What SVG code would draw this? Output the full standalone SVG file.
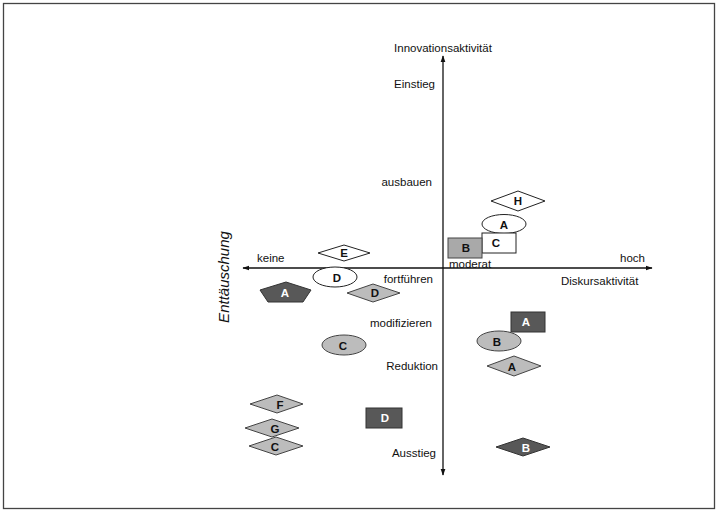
<svg xmlns="http://www.w3.org/2000/svg" width="718" height="512" viewBox="0 0 718 512">
  <style>
    .lbl { font-family: "Liberation Sans", Arial, sans-serif; font-size: 11.5px; fill: #111; }
    .end { text-anchor: end; }
    .key { font-family: "Liberation Sans", Arial, sans-serif; font-size: 11.5px; font-weight: bold; text-anchor: middle; dominant-baseline: central; fill: #111; }
    .key.inv { fill: #fff; }
    .w { fill: #fff; stroke: #222; stroke-width: 1; }
    .g { fill: #bcbcbc; stroke: #444; stroke-width: 1; }
    .gr { fill: #a9a9a9; stroke: #444; stroke-width: 1; }
    .d { fill: #585858; stroke: #333; stroke-width: 1; }
    .axis { stroke: #111; stroke-width: 1.3; fill: none; }
  </style>
  <defs>
    <marker id="arr" viewBox="0 0 10 10" refX="9" refY="5" markerWidth="7" markerHeight="7" orient="auto-start-reverse" markerUnits="userSpaceOnUse">
      <path d="M0,1.5 L10,5 L0,8.5 Z" fill="#111"/>
    </marker>
  </defs>

  <rect x="0" y="0" width="718" height="512" fill="#fff"/>
  <rect x="3.5" y="3.5" width="711" height="505" fill="none" stroke="#444" stroke-width="1.3"/>

  <!-- axes, arrow at both ends -->
  <g id="connectors">
    <line class="axis" x1="443" y1="56" x2="443" y2="475" marker-start="url(#arr)" marker-end="url(#arr)"/>
    <line class="axis" x1="243" y1="268" x2="652" y2="268" marker-start="url(#arr)" marker-end="url(#arr)"/>
  </g>

  <!-- axis labels -->
  <g id="labels">
    <text class="lbl" x="443" y="52" text-anchor="middle">Innovationsaktivität</text>
    <text class="lbl end" x="435" y="88">Einstieg</text>
    <text class="lbl end" x="432" y="186">ausbauen</text>
    <text class="lbl end" x="433" y="283">fortführen</text>
    <text class="lbl end" x="432" y="327">modifizieren</text>
    <text class="lbl end" x="438" y="370">Reduktion</text>
    <text class="lbl end" x="436" y="457">Ausstieg</text>
    <text class="lbl" x="257" y="262">keine</text>
    <text class="lbl" x="620" y="262">hoch</text>
    <text class="lbl" x="561" y="285">Diskursaktivität</text>
    <text class="lbl" x="449" y="268">moderat</text>
    <text x="0" y="0" transform="translate(229,277) rotate(-90)" text-anchor="middle" font-family="'Liberation Sans', Arial, sans-serif" font-size="15" font-style="italic" fill="#111">Enttäuschung</text>
  </g>

  <!-- upper right quadrant -->
  <g id="node-H"><polygon class="w" points="491,201 518,191 545,201 518,211"/><text class="key" x="518" y="201">H</text></g>
  <g id="node-A1"><ellipse class="w" cx="504" cy="224" rx="22" ry="9.5"/><text class="key" x="504" y="225">A</text></g>
  <g id="node-C1"><rect class="w" x="482" y="233" width="34" height="20"/><text class="key" x="496" y="243">C</text></g>
  <g id="node-B1"><rect class="gr" x="448" y="238" width="34" height="20"/><text class="key" x="466" y="248">B</text></g>

  <!-- upper left / around the axis -->
  <g id="node-E"><polygon class="w" points="318,253 344,245 370,253 344,261"/><text class="key" x="344" y="253">E</text></g>
  <g id="node-D1"><ellipse class="w" cx="335" cy="277" rx="22" ry="10"/><text class="key" x="337" y="278">D</text></g>
  <g id="node-A2"><polygon class="d" points="286,282 311,290 303,302 268,302 260,290"/><text class="key inv" x="285" y="293">A</text></g>
  <g id="node-D2"><polygon class="g" points="347,293 373,284 400,293 373,302"/><text class="key" x="375" y="293">D</text></g>

  <!-- lower right quadrant -->
  <g id="node-A3"><rect class="d" x="511" y="312" width="34" height="20"/><text class="key inv" x="526" y="322">A</text></g>
  <g id="node-B2"><ellipse class="g" cx="499" cy="341" rx="22" ry="10"/><text class="key" x="497" y="342">B</text></g>
  <g id="node-A4"><polygon class="g" points="487,366 514,356 541,366 514,376"/><text class="key" x="512" y="367">A</text></g>
  <g id="node-B3"><polygon class="d" points="496,447 523,438 550,447 523,456"/><text class="key inv" x="526" y="448">B</text></g>

  <!-- lower left quadrant -->
  <g id="node-C2"><ellipse class="g" cx="344" cy="345" rx="22" ry="10"/><text class="key" x="343" y="346">C</text></g>
  <g id="node-F"><polygon class="g" points="250,404 277,395 303,404 277,413"/><text class="key" x="280" y="405">F</text></g>
  <g id="node-G"><polygon class="g" points="245,428 272,419 299,428 272,437"/><text class="key" x="275" y="429">G</text></g>
  <g id="node-C3"><polygon class="g" points="249,446 276,437 303,446 276,455"/><text class="key" x="275" y="447">C</text></g>
  <g id="node-D3"><rect class="d" x="366" y="408" width="36" height="20"/><text class="key inv" x="385" y="418">D</text></g>
</svg>
